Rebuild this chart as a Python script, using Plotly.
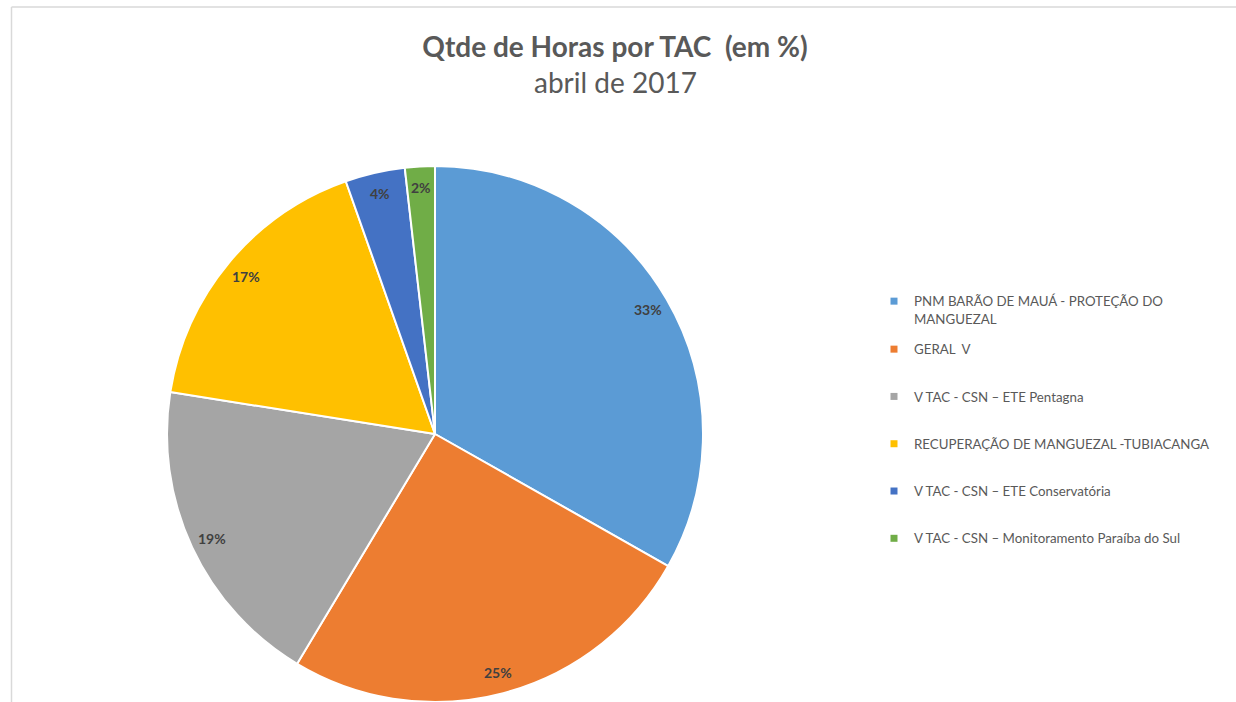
import math
import plotly.graph_objects as go

# dados
categorias = [
    "PNM BARÃO DE MAUÁ - PROTEÇÃO DO<br>MANGUEZAL",
    "GERAL  V",
    "V TAC - CSN – ETE Pentagna",
    "RECUPERAÇÃO DE MANGUEZAL -TUBIACANGA",
    "V TAC - CSN – ETE Conservatória",
    "V TAC - CSN – Monitoramento Paraíba do Sul",
]
percentuais = [33.2, 25.4, 18.9, 17.1, 3.6, 1.8]
rotulos = ["33%", "25%", "19%", "17%", "4%", "2%"]
cores = ["#5B9BD5", "#ED7D31", "#A5A5A5", "#FFC000", "#4472C4", "#70AD47"]

W, H = 1236, 702
# area da pizza em pixels (esq, dir, topo, base)
px0, px1, py0, py1 = 165, 705, 166, 702

fig = go.Figure()
fig.add_trace(go.Pie(
    labels=categorias,
    values=percentuais,
    sort=False,
    direction="clockwise",
    rotation=0,
    marker=dict(colors=cores, line=dict(color="white", width=2)),
    textinfo="none",
    showlegend=False,
    hoverinfo="label+percent",
    domain=dict(x=[px0 / W, px1 / W], y=[1 - py1 / H, 1 - py0 / H]),
))

# legenda com espacamento maior (tracos vazios); 1o item em legenda separada
for i, (cat, cor) in enumerate(zip(categorias, cores)):
    fig.add_trace(go.Scatter(
        x=[None], y=[None], mode="markers", name=cat,
        legendgroup=str(i),
        legend="legend" if i == 0 else "legend2",
        marker=dict(symbol="square", size=7, color=cor),
    ))

# rotulos dos percentuais, no angulo medio de cada fatia
cx, cy = (px0 + px1) / 2, (py0 + py1) / 2
r = min(px1 - px0, py1 - py0) / 2
total = sum(percentuais)
acum = 0
for v, txt in zip(percentuais, rotulos):
    meio = (acum + v / 2) / total * 2 * math.pi
    acum += v
    x = cx + 0.92 * r * math.sin(meio)
    y = cy - 0.92 * r * math.cos(meio)
    fig.add_annotation(
        x=x / W, y=1 - y / H, xref="paper", yref="paper",
        xanchor="center", yanchor="middle",
        text="<b>" + txt + "</b>", showarrow=False,
        font=dict(family="Lato", size=14, color="#404040"),
    )

fig.add_annotation(
    x=615 / W, y=1 - 82 / H, xref="paper", yref="paper", text="abril de 2017",
    xanchor="center", yanchor="middle",
    showarrow=False, font=dict(family="Lato", size=28, color="#595959"),
)

# moldura
fig.add_shape(type="line", xref="paper", yref="paper", x0=11.5 / W, x1=11.5 / W, y0=0, y1=1 - 7 / H,
              line=dict(color="#D9D9D9", width=1.5))
fig.add_shape(type="line", xref="paper", yref="paper", x0=11.5 / W, x1=1, y0=1 - 7 / H, y1=1 - 7 / H,
              line=dict(color="#D9D9D9", width=1.5))

fonte_leg = dict(family="Lato", size=13.3, color="#595959")
fig.update_layout(
    width=W, height=H,
    margin=dict(l=0, r=0, t=0, b=0),
    paper_bgcolor="white", plot_bgcolor="white",
    title=dict(text="<b>Qtde de Horas por TAC \u00a0(em %)</b>", x=615 / W, xanchor="center",
               y=1 - 47 / H, yanchor="middle",
               font=dict(family="Lato", size=28, color="#595959")),
    xaxis=dict(visible=False), yaxis=dict(visible=False),
    legend=dict(x=874 / W, y=1 - 286 / H, xanchor="left", yanchor="top",
                font=fonte_leg, valign="top", bgcolor="rgba(0,0,0,0)"),
    legend2=dict(x=874 / W, y=1 - 334 / H, xanchor="left", yanchor="top",
                 font=fonte_leg, tracegroupgap=27, valign="top", bgcolor="rgba(0,0,0,0)"),
)

fig.write_html("out.html", config={"displayModeBar": False},
               post_script="document.body.style.margin = '0';")
